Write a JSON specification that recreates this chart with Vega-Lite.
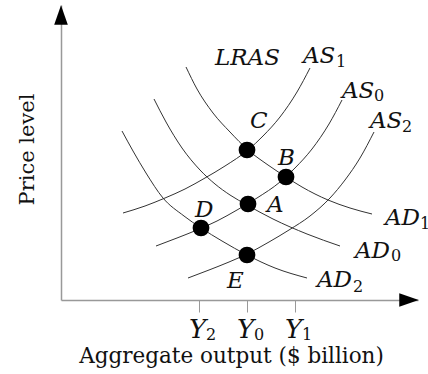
{
  "$schema": "https://vega.github.io/schema/vega-lite/v6.json",
  "width": 357,
  "height": 295,
  "autosize": {"type": "none"},
  "padding": {"left": 61, "top": 5, "right": 10, "bottom": 74},
  "background": "white",
  "config": {"view": {"stroke": null}},
  "datasets": {
    "curves": [
      {"curve": "AD1", "output": 125, "price": 233}, {"curve": "AD1", "output": 136, "price": 211}, {"curve": "AD1", "output": 152, "price": 187}, {"curve": "AD1", "output": 169, "price": 168}, {"curve": "AD1", "output": 187, "price": 150}, {"curve": "AD1", "output": 207, "price": 135}, {"curve": "AD1", "output": 225, "price": 123}, {"curve": "AD1", "output": 241, "price": 113}, {"curve": "AD1", "output": 267, "price": 100}, {"curve": "AD1", "output": 289, "price": 92}, {"curve": "AD1", "output": 311, "price": 86},
      {"curve": "AD0", "output": 93, "price": 201}, {"curve": "AD0", "output": 105, "price": 178}, {"curve": "AD0", "output": 121, "price": 152}, {"curve": "AD0", "output": 139, "price": 130}, {"curve": "AD0", "output": 154, "price": 116}, {"curve": "AD0", "output": 169, "price": 105}, {"curve": "AD0", "output": 186, "price": 95}, {"curve": "AD0", "output": 212, "price": 81}, {"curve": "AD0", "output": 246, "price": 66}, {"curve": "AD0", "output": 279, "price": 54},
      {"curve": "AD2", "output": 61, "price": 169}, {"curve": "AD2", "output": 72, "price": 149}, {"curve": "AD2", "output": 85, "price": 127}, {"curve": "AD2", "output": 102, "price": 102}, {"curve": "AD2", "output": 123, "price": 84}, {"curve": "AD2", "output": 140, "price": 72}, {"curve": "AD2", "output": 161, "price": 59}, {"curve": "AD2", "output": 186, "price": 45}, {"curve": "AD2", "output": 214, "price": 32}, {"curve": "AD2", "output": 246, "price": 22},
      {"curve": "AS1", "output": 62, "price": 87}, {"curve": "AS1", "output": 84, "price": 94}, {"curve": "AS1", "output": 104, "price": 102}, {"curve": "AS1", "output": 124, "price": 111}, {"curve": "AS1", "output": 144, "price": 122}, {"curve": "AS1", "output": 164, "price": 134}, {"curve": "AS1", "output": 187, "price": 150}, {"curve": "AS1", "output": 202, "price": 164}, {"curve": "AS1", "output": 219, "price": 183}, {"curve": "AS1", "output": 236, "price": 208}, {"curve": "AS1", "output": 249, "price": 232},
      {"curve": "AS0", "output": 95, "price": 54}, {"curve": "AS0", "output": 116, "price": 62}, {"curve": "AS0", "output": 136, "price": 70}, {"curve": "AS0", "output": 156, "price": 79}, {"curve": "AS0", "output": 176, "price": 90}, {"curve": "AS0", "output": 196, "price": 102}, {"curve": "AS0", "output": 219, "price": 118}, {"curve": "AS0", "output": 234, "price": 132}, {"curve": "AS0", "output": 251, "price": 151}, {"curve": "AS0", "output": 268, "price": 176}, {"curve": "AS0", "output": 281, "price": 200},
      {"curve": "AS2", "output": 127, "price": 22}, {"curve": "AS2", "output": 148, "price": 30}, {"curve": "AS2", "output": 168, "price": 38}, {"curve": "AS2", "output": 186, "price": 46}, {"curve": "AS2", "output": 208, "price": 58}, {"curve": "AS2", "output": 228, "price": 70}, {"curve": "AS2", "output": 249, "price": 84}, {"curve": "AS2", "output": 269, "price": 102}, {"curve": "AS2", "output": 284, "price": 120}, {"curve": "AS2", "output": 299, "price": 142}, {"curve": "AS2", "output": 313, "price": 168}
    ],
    "equilibria": [
      {"point": "C", "output": 186, "price": 150},
      {"point": "B", "output": 225, "price": 123},
      {"point": "A", "output": 187, "price": 96},
      {"point": "D", "output": 140, "price": 72},
      {"point": "E", "output": 186, "price": 45}
    ],
    "guides": [
      {"name": "Y2", "output": 138, "top": 67},
      {"name": "Y1", "output": 234, "top": 68}
    ],
    "lras": [
      {"name": "LRAS", "output": 186, "top": 225}
    ],
    "arrowheads": [
      {"end": "price", "output": 0, "price": 285},
      {"end": "output", "output": 348, "price": 0}
    ],
    "labels": [
      {"for": "LRAS", "text": "LRAS", "output": 154, "price": 235},
      {"for": "AS1", "text": "AS", "output": 242, "price": 237},
      {"for": "AS0", "text": "AS", "output": 281, "price": 202},
      {"for": "AS2", "text": "AS", "output": 309, "price": 172},
      {"for": "AD1", "text": "AD", "output": 324, "price": 75},
      {"for": "AD0", "text": "AD", "output": 294, "price": 42},
      {"for": "AD2", "text": "AD", "output": 256, "price": 13},
      {"for": "C", "text": "C", "output": 189, "price": 172},
      {"for": "B", "text": "B", "output": 217, "price": 135},
      {"for": "A", "text": "A", "output": 206, "price": 88},
      {"for": "D", "text": "D", "output": 134, "price": 83},
      {"for": "E", "text": "E", "output": 166, "price": 12}
    ],
    "subscripts": [
      {"for": "AS1", "text": "1", "output": 275, "price": 233},
      {"for": "AS0", "text": "0", "output": 313, "price": 199},
      {"for": "AS2", "text": "2", "output": 341, "price": 168},
      {"for": "AD1", "text": "1", "output": 359, "price": 71},
      {"for": "AD0", "text": "0", "output": 330, "price": 39},
      {"for": "AD2", "text": "2", "output": 292, "price": 8},
      {"for": "Y2", "text": "2", "output": 145, "price": -40},
      {"for": "Y0", "text": "0", "output": 193, "price": -40},
      {"for": "Y1", "text": "1", "output": 241, "price": -40}
    ]
  },
  "encoding": {
    "x": {
      "field": "output", "type": "quantitative",
      "scale": {"domain": [0, 357], "nice": false, "zero": false},
      "axis": {
        "values": [138, 186, 234],
        "labelExpr": "'Y'",
        "grid": false,
        "domainColor": "#999999", "domainWidth": 1.5,
        "tickColor": "#999999", "tickSize": 12, "tickWidth": 1,
        "labelFont": "DejaVu Serif", "labelFontStyle": "italic", "labelFontSize": 26, "labelColor": "#111111",
        "labelBaseline": "alphabetic", "labelPadding": 25, "labelOffset": -2, "labelFlush": false, "labelOverlap": false,
        "title": "Aggregate output ($ billion)",
        "titleFont": "DejaVu Serif", "titleFontWeight": "normal", "titleFontSize": 21.5, "titleColor": "#111111",
        "titleX": 170, "titleY": 62, "titleAlign": "center", "titleBaseline": "alphabetic", "titleAnchor": null
      }
    },
    "y": {
      "field": "price", "type": "quantitative",
      "scale": {"domain": [0, 295], "nice": false, "zero": false},
      "axis": {
        "grid": false, "ticks": false, "labels": false,
        "domainColor": "#999999", "domainWidth": 1.5,
        "title": "Price level",
        "titleFont": "DejaVu Serif", "titleFontWeight": "normal", "titleFontSize": 21, "titleColor": "#111111",
        "titleX": -28, "titleY": 144, "titleAngle": 270, "titleAlign": "center", "titleBaseline": "alphabetic"
      }
    }
  },
  "layer": [
    {
      "data": {"name": "lras"},
      "mark": {"type": "rule", "color": "#888888", "strokeWidth": 1},
      "encoding": {"y": {"datum": 0, "type": "quantitative"}, "y2": {"field": "top"}}
    },
    {
      "data": {"name": "guides"},
      "mark": {"type": "rule", "color": "#888888", "strokeWidth": 1, "strokeDash": [8, 6]},
      "encoding": {"y": {"datum": 0, "type": "quantitative"}, "y2": {"field": "top"}}
    },
    {
      "data": {"name": "curves"},
      "mark": {"type": "line", "interpolate": "monotone", "color": "#333333", "strokeWidth": 1},
      "encoding": {"detail": {"field": "curve", "type": "nominal"}}
    },
    {
      "data": {"name": "equilibria"},
      "mark": {"type": "point", "shape": "circle", "filled": true, "color": "#000000", "opacity": 1, "size": 280}
    },
    {
      "data": {"name": "labels"},
      "mark": {"type": "text", "font": "DejaVu Serif", "fontStyle": "italic", "fontSize": 23, "align": "left", "baseline": "alphabetic", "color": "#111111"},
      "encoding": {"text": {"field": "text", "type": "nominal"}}
    },
    {
      "data": {"name": "subscripts"},
      "mark": {"type": "text", "font": "DejaVu Serif", "fontSize": 16, "align": "left", "baseline": "alphabetic", "color": "#111111"},
      "encoding": {"text": {"field": "text", "type": "nominal"}}
    },
    {
      "data": {"name": "arrowheads"},
      "mark": {"type": "point", "filled": true, "color": "#000000", "opacity": 1, "size": 380},
      "encoding": {
        "shape": {
          "field": "end", "type": "nominal", "legend": null,
          "scale": {"domain": ["price", "output"], "range": ["M0,-1L0.7,1L-0.7,1Z", "M1,0L-1,-0.7L-1,0.7Z"]}
        }
      }
    }
  ]
}
